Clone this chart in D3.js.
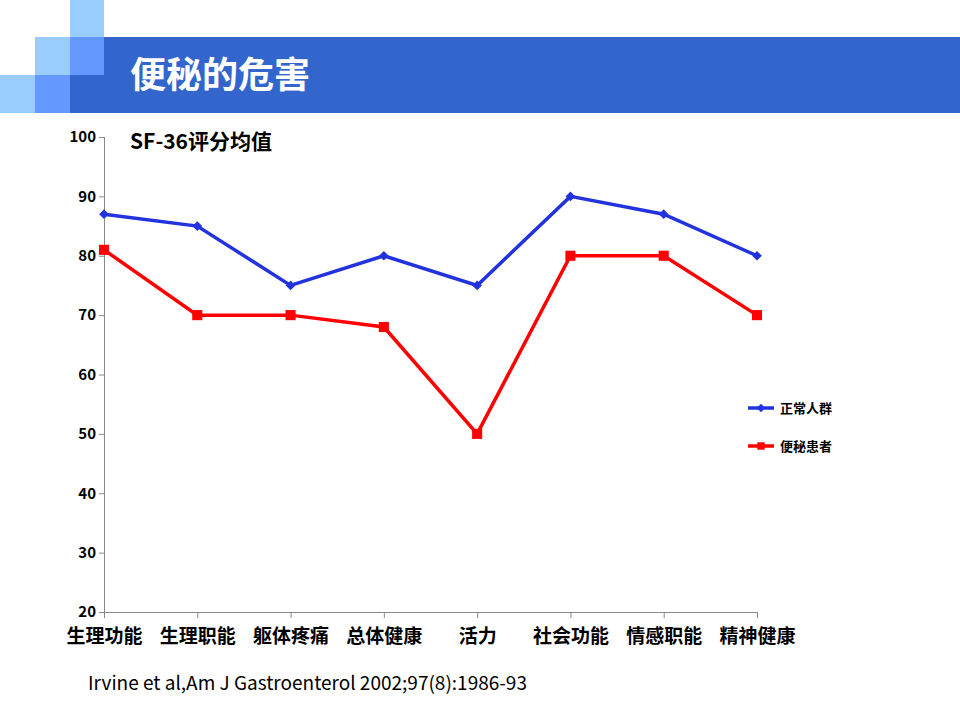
<!DOCTYPE html>
<html>
<head>
<meta charset="utf-8">
<script src="https://cdn.jsdelivr.net/npm/d3@7"></script>
<style>
  body { margin: 0; background: #fff; }
  text { font-family: "Noto Sans CJK SC", "Open Sans", sans-serif; }
</style>
</head>
<body>
<svg id="chart" width="960" height="720"></svg>
<script>
// DATA
const categories = ['生理功能', '生理职能', '躯体疼痛', '总体健康', '活力', '社会功能', '情感职能', '精神健康'];
const normalValues = [87, 85, 75, 80, 75, 90, 87, 80];
const patientValues = [81, 70, 70, 68, 50, 80, 80, 70];
const yTicks = [20, 30, 40, 50, 60, 70, 80, 90, 100];
const seriesNames = ['正常人群', '便秘患者'];

const svg = d3.select('#chart');

// HEADER DECORATION
const blocks = [
  {x: 70, y: 0, w: 34, h: 37, c: '#99ccff'},
  {x: 35, y: 37, w: 35, h: 38, c: '#99ccff'},
  {x: 0, y: 75, w: 35, h: 38, c: '#99ccff'},
  {x: 35, y: 75, w: 35, h: 38, c: '#6699ff'}
];
svg.append('rect')
    .attr('x', 70).attr('y', 37)
    .attr('width', 890).attr('height', 76)
    .attr('fill', '#3366cc');
svg.append('rect')
    .attr('x', 70).attr('y', 37)
    .attr('width', 34).attr('height', 38)
    .attr('fill', '#6699ff');
svg.selectAll('rect.block')
    .data(blocks)
    .enter()
  .append('rect')
    .attr('class', 'block')
    .attr('x', d => d.x).attr('y', d => d.y)
    .attr('width', d => d.w).attr('height', d => d.h)
    .attr('fill', d => d.c);
svg.append('text')
    .attr('x', 130).attr('y', 88)
    .attr('fill', '#fff')
    .attr('font-size', 36)
    .attr('font-weight', 'bold')
    .text('便秘的危害');

// SCALES
const x = d3.scalePoint().domain(categories).range([104, 757]);
const y = d3.scaleLinear().domain([20, 100]).range([612, 137]);

// AXES
const yAxis = svg.append('g')
    .attr('transform', 'translate(104,0)')
    .call(d3.axisLeft(y).tickValues(yTicks).tickSize(5).tickPadding(3));
yAxis.selectAll('text')
    .attr('font-size', 15)
    .attr('font-weight', 'bold')
    .attr('fill', '#000')
    .attr('font-family', '"Open Sans", sans-serif');

const xAxis = svg.append('g')
    .attr('transform', 'translate(0,612)')
    .call(d3.axisBottom(x).tickSize(6).tickPadding(12));
xAxis.selectAll('text')
    .attr('font-size', 19)
    .attr('font-weight', 'bold')
    .attr('fill', '#000');
svg.selectAll('.domain, .tick line').attr('stroke', '#888');
xAxis.select('.domain').attr('d', 'M104,0.5H757');
yAxis.select('.domain').attr('d', 'M0.5,612V137');

// SUBTITLE
svg.append('text')
    .attr('x', 130).attr('y', 149)
    .attr('font-size', 21)
    .attr('font-weight', 'bold')
    .text('SF-36评分均值');

// LINES
const series = [
  {name: seriesNames[0], values: normalValues, color: '#2233dd', marker: 'diamond'},
  {name: seriesNames[1], values: patientValues, color: '#ff0000', marker: 'square'}
];
const line = d3.line().x((d, i) => x(categories[i])).y(d => y(d));

series.forEach(s => {
  svg.append('path')
      .datum(s.values)
      .attr('d', line)
      .attr('fill', 'none')
      .attr('stroke', s.color)
      .attr('stroke-width', 3.5);
  const sym = s.marker === 'diamond'
    ? d3.symbol().type(d3.symbolDiamond2).size(60)
    : d3.symbol().type(d3.symbolSquare2).size(130);
  svg.selectAll(null)
      .data(s.values)
      .enter()
    .append('path')
      .attr('d', sym)
      .attr('transform', (d, i) => `translate(${x(categories[i])},${y(d)})`)
      .attr('fill', s.color);
});

// LEGEND
const legend = svg.append('g');
series.forEach((s, i) => {
  const ly = 408 + i * 38;
  legend.append('line')
      .attr('x1', 748).attr('x2', 774)
      .attr('y1', ly).attr('y2', ly)
      .attr('stroke', s.color)
      .attr('stroke-width', 3.5);
  legend.append('path')
      .attr('d', s.marker === 'diamond'
        ? d3.symbol().type(d3.symbolDiamond2).size(45)()
        : d3.symbol().type(d3.symbolSquare2).size(70)())
      .attr('transform', `translate(761,${ly})`)
      .attr('fill', s.color);
  legend.append('text')
      .attr('x', 780).attr('y', ly + 5)
      .attr('font-size', 13)
      .attr('font-weight', 'bold')
      .text(s.name);
});

// SOURCE
svg.append('text')
    .attr('x', 88).attr('y', 690)
    .attr('font-size', 19)
    .attr('font-family', '"Open Sans", sans-serif')
    .text('Irvine et al,Am J Gastroenterol 2002;97(8):1986-93');
</script>
</body>
</html>
